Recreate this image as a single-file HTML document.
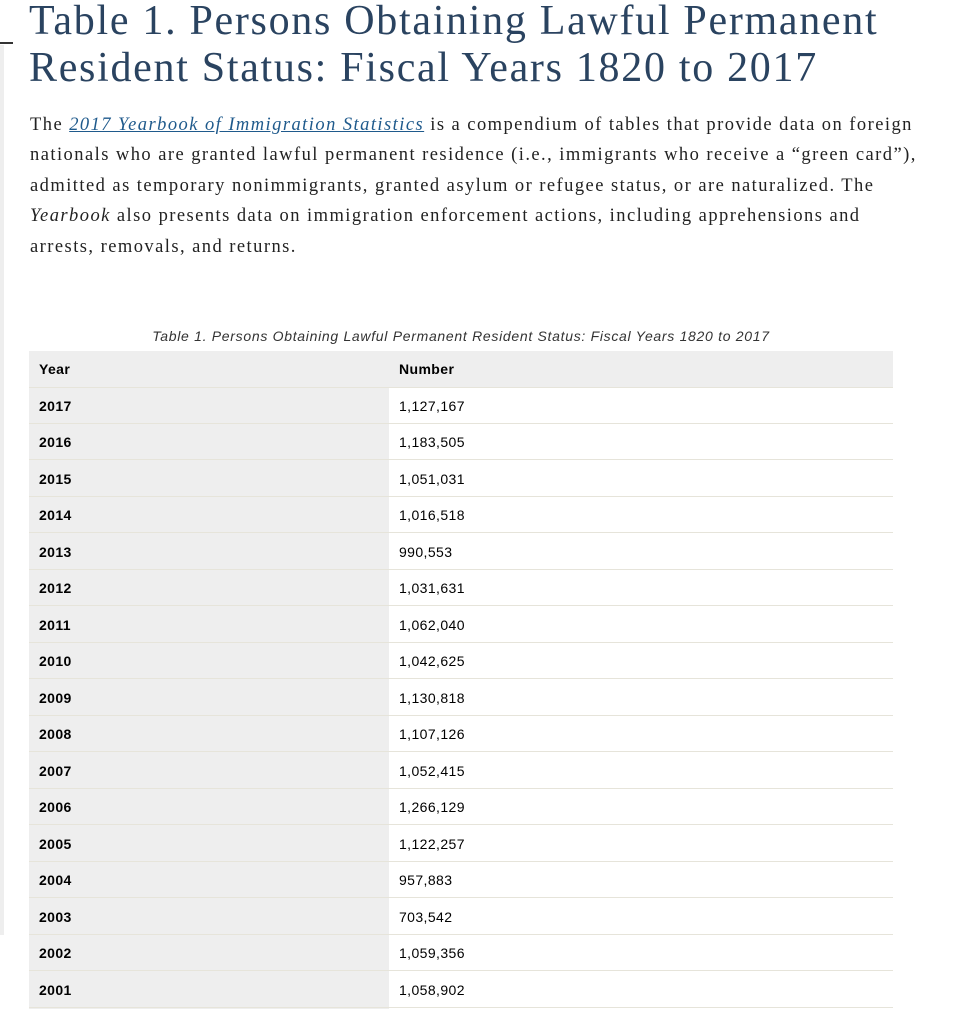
<!DOCTYPE html>
<html><head><meta charset="utf-8"><style>
html,body{margin:0;padding:0;background:#fff;width:963px;height:1009px;overflow:hidden;position:relative}
.strip{position:absolute;left:0;top:45px;width:4px;height:890px;background:#eeeeee}
.mark{position:absolute;left:0;top:42px;width:13px;height:2px;background:#333}
.t{position:absolute;left:29px;font-family:"Liberation Serif",serif;font-size:42px;color:#2a4360;white-space:nowrap;letter-spacing:1.7px}
.p{position:absolute;left:30px;font-family:"Liberation Serif",serif;font-size:18.5px;color:#222;white-space:nowrap;letter-spacing:1.45px}
.p a{color:#1f5a8c;font-style:italic;text-decoration:underline}
.cap{position:absolute;left:29px;width:864px;top:328px;text-align:center;font-family:"Liberation Sans",sans-serif;font-style:italic;font-size:14px;color:#333;letter-spacing:0.7px}
.bgl{position:absolute;left:29px;top:351px;width:360px;height:658px;background:#eeeeee}
.row{position:absolute;left:29px;width:864px;height:36px;box-sizing:border-box;border-bottom:1px solid #e6e4da;font-family:"Liberation Sans",sans-serif;font-size:14px;color:#000;letter-spacing:0.4px}
.row .y{position:absolute;left:0;top:0;width:350px;height:35px;background:#eeeeee;font-weight:bold;padding-left:10px;line-height:36px}
.row .n{position:absolute;left:360px;top:0;width:504px;height:35px;background:#fff;line-height:36px}
.row .n span{margin-left:10px}
.hd .y,.hd .n{background:#eeeeee;font-weight:bold}
</style></head><body>
<div class="strip"></div><div class="mark"></div>
<div class="t" style="top:-3px">Table 1. Persons Obtaining Lawful Permanent</div>
<div class="t" style="top:44px">Resident Status: Fiscal Years 1820 to 2017</div>
<div class="p" style="top:115px">The <a>2017 Yearbook of Immigration Statistics</a> is a compendium of tables that provide data on foreign</div>
<div class="p" style="top:145px">nationals who are granted lawful permanent residence (i.e., immigrants who receive a “green card”),</div>
<div class="p" style="top:176px">admitted as temporary nonimmigrants, granted asylum or refugee status, or are naturalized. The</div>
<div class="p" style="top:206px"><i>Yearbook</i> also presents data on immigration enforcement actions, including apprehensions and</div>
<div class="p" style="top:237px">arrests, removals, and returns.</div>
<div class="cap">Table 1. Persons Obtaining Lawful Permanent Resident Status: Fiscal Years 1820 to 2017</div>
<div class="bgl"></div>
<div class="row hd" style="top:351px;height:37px"><div class="y" style="height:36px">Year</div><div class="n" style="height:36px"><span>Number</span></div></div>
<div class="row" style="top:388px"><div class="y">2017</div><div class="n"><span>1,127,167</span></div></div>
<div class="row" style="top:424px"><div class="y">2016</div><div class="n"><span>1,183,505</span></div></div>
<div class="row" style="top:461px"><div class="y">2015</div><div class="n"><span>1,051,031</span></div></div>
<div class="row" style="top:497px"><div class="y">2014</div><div class="n"><span>1,016,518</span></div></div>
<div class="row" style="top:534px"><div class="y">2013</div><div class="n"><span>990,553</span></div></div>
<div class="row" style="top:570px"><div class="y">2012</div><div class="n"><span>1,031,631</span></div></div>
<div class="row" style="top:607px"><div class="y">2011</div><div class="n"><span>1,062,040</span></div></div>
<div class="row" style="top:643px"><div class="y">2010</div><div class="n"><span>1,042,625</span></div></div>
<div class="row" style="top:680px"><div class="y">2009</div><div class="n"><span>1,130,818</span></div></div>
<div class="row" style="top:716px"><div class="y">2008</div><div class="n"><span>1,107,126</span></div></div>
<div class="row" style="top:753px"><div class="y">2007</div><div class="n"><span>1,052,415</span></div></div>
<div class="row" style="top:789px"><div class="y">2006</div><div class="n"><span>1,266,129</span></div></div>
<div class="row" style="top:826px"><div class="y">2005</div><div class="n"><span>1,122,257</span></div></div>
<div class="row" style="top:862px"><div class="y">2004</div><div class="n"><span>957,883</span></div></div>
<div class="row" style="top:899px"><div class="y">2003</div><div class="n"><span>703,542</span></div></div>
<div class="row" style="top:935px"><div class="y">2002</div><div class="n"><span>1,059,356</span></div></div>
<div class="row" style="top:972px"><div class="y">2001</div><div class="n"><span>1,058,902</span></div></div>
</body></html>
